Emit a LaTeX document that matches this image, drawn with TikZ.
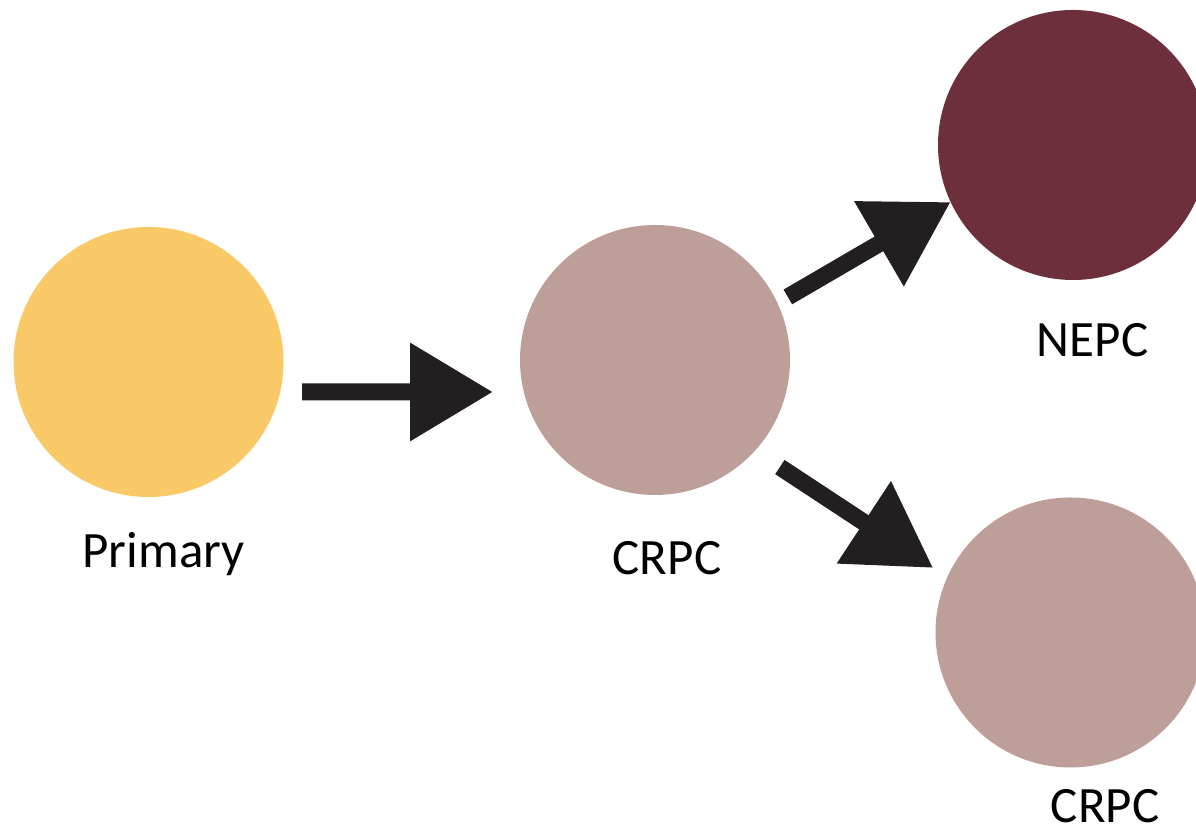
\documentclass[tikz,border=0pt]{standalone}
\usepackage{fontspec}
\setmainfont{Carlito}
\usepackage{xcolor}
\usepackage{tikz}
\usetikzlibrary{shapes,arrows,positioning,calc,arrows.meta}

\definecolor{primyellow}{HTML}{F8C966}
\definecolor{crpcpink}{HTML}{BE9E99}
\definecolor{nepcred}{HTML}{6E2F3D}
\definecolor{arrowblack}{HTML}{231F20}

\tikzset{
    cell/.style={circle, minimum size=5.4cm, inner sep=0pt, outer sep=0pt},
    flow/.style={line width=0.34cm, arrowblack, -{Triangle[length=1.66cm, width=1.88cm]}},
    lbl/.style={anchor=base, inner sep=0pt, font=\fontsize{29}{35}\selectfont}
}

\begin{document}
\begin{tikzpicture}
    \useasboundingbox (0,0) rectangle (23.92,16.64);

    \node[cell, fill=primyellow] (prim) at (2.97,9.40) {};
    \node[cell, fill=crpcpink] (crpc) at (13.10,9.44) {};
    \node[cell, fill=nepcred] (nepc) at (21.46,13.74) {};
    \node[cell, fill=crpcpink] (crpc2) at (21.41,3.99) {};

    \draw[flow] ([shift={(0.37,-0.60)}]prim.east) -- ([shift={(-0.54,-0.64)}]crpc.west);
    \draw[flow] ([shift={(0.21,0.12)}]crpc.25) -- (nepc.205);
    \draw[flow] ([shift={(0.46,-0.37)}]crpc.-41) -- ([shift={(-0.30,0.15)}]crpc2.155);

    \node[lbl] (tprim) at (3.27,5.28) {Primary};
    \node[lbl] (tcrpc) at (13.34,5.14) {CRPC};
    \node[lbl] (tnepc) at (21.85,9.50) {NEPC};
    \node[lbl] (tcrpc2) at (22.10,0.18) {CRPC};
\end{tikzpicture}
\end{document}
